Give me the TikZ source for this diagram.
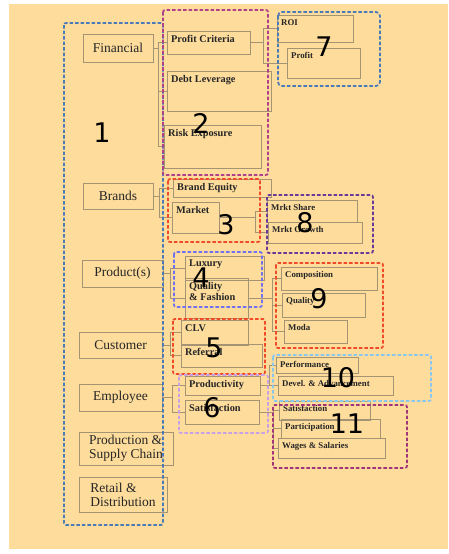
\documentclass[tikz,border=0pt]{standalone}
\usepackage{fontspec}
\setmainfont{Liberation Serif}
\newfontfamily\numfont{DejaVu Sans}
\usepackage{tikz}
\usetikzlibrary{positioning}
\definecolor{bgfill}{RGB}{253,220,156}
\definecolor{boxline}{RGB}{165,148,115}
\definecolor{gblue}{RGB}{74,122,184}
\definecolor{gmag}{RGB}{176,64,138}
\definecolor{gred}{RGB}{240,74,40}
\definecolor{gviolet}{RGB}{112,112,240}
\definecolor{glav}{RGB}{200,160,232}
\definecolor{gpurple}{RGB}{106,58,154}
\definecolor{gsky}{RGB}{136,200,240}
\definecolor{gplum}{RGB}{160,53,122}
\tikzset{item/.style = {draw=boxline, line width=0.6pt, inner sep=0, outer sep=0, anchor=north west}}
\tikzset{cat/.style = {item, text=black!85, align=left, font=\fontsize{13.5}{14}\selectfont}}
\tikzset{tag/.style = {anchor=north west, inner sep=4pt, text=black!85, align=left,
                       font=\bfseries\fontsize{10.3}{11}\selectfont}}
\tikzset{tagsm/.style = {tag, font=\bfseries\fontsize{8.8}{10}\selectfont}}
\tikzset{grp/.style = {dash pattern=on 3.5pt off 2pt, line width=1.7pt, rounded corners=2pt}}
\tikzset{wire/.style = {draw=boxline, line width=0.6pt}}
\tikzset{num/.style = {inner sep=0, font=\numfont\fontsize{27}{27}\selectfont}}

\begin{document}
\begin{tikzpicture}[x=1pt, y=-1pt]
      \useasboundingbox (0,0) rectangle (448,554);
      \fill [white] (0,0) rectangle (448,554);
      \fill [bgfill] (9,4) rectangle (448,549);

      \node [cat, minimum width=70pt, minimum height=28pt] (fin) at (83,34) {Financial};
      \node [cat, minimum width=70pt, minimum height=26pt] (brd) at (83,183) {Brands};
      \node [cat, minimum width=81pt, minimum height=27pt] (prod) at (82,260) {Product(s)};
      \node [cat, minimum width=83pt, minimum height=26pt] (cust) at (79,332) {Customer};
      \node [cat, minimum width=83pt, minimum height=27pt] (emp) at (79,384) {Employee};
      \node [cat, minimum width=94pt, minimum height=33pt] (psc) at (79,432) {Production \&\\Supply Chain};
      \node [cat, minimum width=88pt, minimum height=35pt] (rtl) at (79,477) {Retail \&\\Distribution};

      \node [item, minimum width=83pt, minimum height=23pt, label={[tag]north west:Profit Criteria}] (pc) at (167,31) {};
      \node [item, minimum width=104pt, minimum height=40pt, label={[tag]north west:Debt Leverage}] (dl) at (167,71) {};
      \node [item, minimum width=97pt, minimum height=43pt, label={[tag]north west:Risk Exposure}] (re) at (164,125) {};
      \node [item, minimum width=76pt, minimum height=27pt, label={[tagsm]north west:ROI}] (roi) at (277,15) {};
      \node [item, minimum width=73pt, minimum height=30pt, label={[tagsm]north west:Profit}] (pft) at (287,48) {};

      \node [item, minimum width=98pt, minimum height=18pt, label={[tag]north west:Brand Equity}] (be) at (173,179) {};
      \node [item, minimum width=47pt, minimum height=31pt, label={[tag]north west:Market}] (mkt) at (172,202) {};
      \node [item, minimum width=90pt, minimum height=22pt, label={[tagsm]north west:Mrkt Share}] (ms) at (267,200) {};
      \node [item, minimum width=94pt, minimum height=21pt, label={[tagsm]north west:Mrkt Growth}] (mg) at (268,222) {};

      \node [item, minimum width=79pt, minimum height=24pt, label={[tag]north west:Luxury}] (lux) at (185,256) {};
      \node [item, minimum width=63pt, minimum height=40pt, label={[tag]north west:{Quality\\\& Fashion}}] (qf) at (185,278) {};
      \node [item, minimum width=96pt, minimum height=23pt, label={[tagsm]north west:Composition}] (comp) at (281,267) {};
      \node [item, minimum width=83pt, minimum height=24pt, label={[tagsm]north west:Quality}] (qual) at (282,293) {};
      \node [item, minimum width=63pt, minimum height=23pt, label={[tagsm]north west:Moda}] (moda) at (284,320) {};

      \node [item, minimum width=67pt, minimum height=25pt, label={[tag]north west:CLV}] (clv) at (181,320) {};
      \node [item, minimum width=81pt, minimum height=23pt, label={[tag]north west:Referral}] (ref) at (181,344) {};

      \node [item, minimum width=75pt, minimum height=19pt, label={[tag]north west:Productivity}] (prd) at (185,376) {};
      \node [item, minimum width=74pt, minimum height=24pt, label={[tag]north west:Satisfaction}] (sat) at (185,400) {};
      \node [item, minimum width=82pt, minimum height=16pt, label={[tagsm]north west:Performance}] (perf) at (276,357) {};
      \node [item, minimum width=115pt, minimum height=19pt, label={[tagsm]north west:Devel. \& Advancement}] (dev) at (278,376) {};
      \node [item, minimum width=91pt, minimum height=19pt, label={[tagsm]north west:Satisfaction}] (esat) at (279,401) {};
      \node [item, minimum width=99pt, minimum height=19pt, label={[tagsm]north west:Participation}] (part) at (281,419) {};
      \node [item, minimum width=107pt, minimum height=20pt, label={[tagsm]north west:Wages \& Salaries}] (wag) at (278,438) {};

      \draw [wire] (fin.east) -- ++(5,0) |- (pc.west);
      \draw [wire] (fin.east) -- ++(5,0) |- (dl.west);
      \draw [wire] (fin.east) -- ++(5,0) |- (re.west);
      \draw [wire] (pc.east) -- ++(13,0) |- (roi.west);
      \draw [wire] (pc.east) -- ++(13,0) |- (pft.west);
      \draw [wire] (brd.east) -- ++(6,0) |- (be.west);
      \draw [wire] (brd.east) -- ++(6,0) |- (mkt.west);
      \draw [wire] (mkt.east) -- ++(36,0) |- (ms.west);
      \draw [wire] (mkt.east) -- ++(36,0) |- (mg.west);
      \draw [wire] (prod.east) -- ++(7,0) |- (lux.west);
      \draw [wire] (prod.east) -- ++(7,0) |- (qf.west);
      \draw [wire] (qf.east) -- ++(24,0) |- (comp.west);
      \draw [wire] (qf.east) -- ++(24,0) |- (qual.west);
      \draw [wire] (qf.east) -- ++(24,0) |- (moda.west);
      \draw [wire] (cust.east) -- ++(8,0) |- (clv.west);
      \draw [wire] (cust.east) -- ++(8,0) |- (ref.west);
      \draw [wire] (emp.east) -- ++(10,0) |- (prd.west);
      \draw [wire] (emp.east) -- ++(10,0) |- (sat.west);
      \draw [wire] (prd.east) -- ++(9,0) |- (perf.west);
      \draw [wire] (prd.east) -- ++(9,0) |- (dev.west);
      \draw [wire] (sat.east) -- ++(14,0) |- (esat.west);
      \draw [wire] (sat.east) -- ++(14,0) |- (part.west);
      \draw [wire] (sat.east) -- ++(14,0) |- (wag.west);

      \draw [grp, gblue] (64,23) rectangle (163,525);
      \draw [grp, gmag] (163,10) rectangle (268,175);
      \draw [grp, gred] (168,179) rectangle (260,242);
      \draw [grp, gviolet] (174,252) rectangle (262,307);
      \draw [grp, gred] (173,319) rectangle (265,374);
      \draw [grp, glav] (179,375) rectangle (268,433);
      \draw [grp, gblue, rounded corners=4pt] (278,12) rectangle (380,86);
      \draw [grp, gpurple] (267,195) rectangle (373,253);
      \draw [grp, gred] (276,263) rectangle (383,348);
      \draw [grp, gsky] (273,355) rectangle (431,401);
      \draw [grp, gplum] (273,405) rectangle (407,468);

      \node [num] (n1) at (102,133) {1};
      \node [num] (n2) at (201,123) {2};
      \node [num] (n3) at (226,225) {3};
      \node [num] (n4) at (201,278) {4};
      \node [num] (n5) at (214,348) {5};
      \node [num] (n6) at (212,408) {6};
      \node [num] (n7) at (324,47) {7};
      \node [num] (n8) at (305,223) {8};
      \node [num] (n9) at (319,299) {9};
      \node [num] (n10) at (338,378) {10};
      \node [num] (n11) at (347,424) {11};
\end{tikzpicture}
\end{document}
